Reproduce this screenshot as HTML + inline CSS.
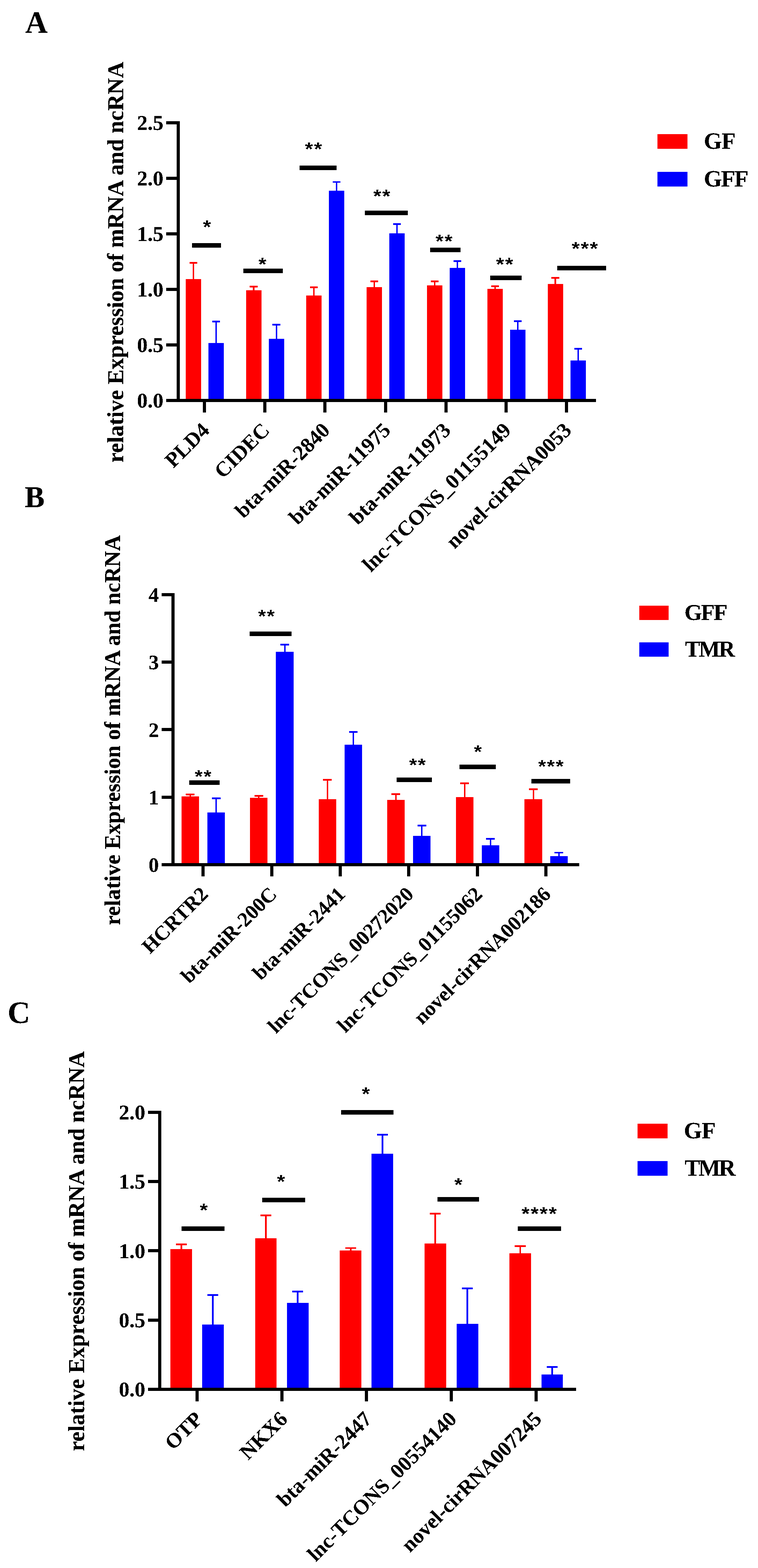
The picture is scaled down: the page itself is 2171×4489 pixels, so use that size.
<!DOCTYPE html>
<html lang="en">
<head>
<meta charset="utf-8">
<title>Relative expression of mRNA and ncRNA</title>
<style>
html,body{margin:0;padding:0;background:#fff;}
body{width:2171px;height:4489px;overflow:hidden;}
svg{display:block;}
text{fill:#000;}
</style>
</head>
<body>
<svg width="2171" height="4489" viewBox="0 0 2171 4489" shape-rendering="crispEdges">
<defs>
<filter id="crisp" x="-2%" y="-2%" width="104%" height="104%" color-interpolation-filters="sRGB">
<feComponentTransfer><feFuncA type="discrete" tableValues="0 0 1 1 1"/></feComponentTransfer>
</filter>
<filter id="crisp2" x="-2%" y="-2%" width="104%" height="104%" color-interpolation-filters="sRGB">
<feComponentTransfer><feFuncA type="discrete" tableValues="0 0 0 1 1"/></feComponentTransfer>
</filter>
</defs>
<rect x="0" y="0" width="2171" height="4489" fill="#ffffff"/>
<g id="chart-A-shapes">
<rect x="552" y="752" width="4" height="48" fill="#ff0000"/>
<rect x="543" y="750" width="22" height="5" fill="#ff0000"/>
<rect x="532" y="799" width="44" height="347" fill="#ff0000"/>
<rect x="617" y="920" width="4" height="63" fill="#0000ff"/>
<rect x="608" y="918" width="22" height="5" fill="#0000ff"/>
<rect x="597" y="982" width="44" height="164" fill="#0000ff"/>
<rect x="724" y="821" width="5" height="11" fill="#ff0000"/>
<rect x="715" y="818" width="23" height="5" fill="#ff0000"/>
<rect x="705" y="831" width="44" height="315" fill="#ff0000"/>
<rect x="790" y="930" width="4" height="41" fill="#0000ff"/>
<rect x="780" y="927" width="23" height="5" fill="#0000ff"/>
<rect x="770" y="970" width="44" height="176" fill="#0000ff"/>
<rect x="897" y="823" width="4" height="24" fill="#ff0000"/>
<rect x="888" y="820" width="22" height="5" fill="#ff0000"/>
<rect x="877" y="846" width="44" height="300" fill="#ff0000"/>
<rect x="962" y="521" width="4" height="26" fill="#0000ff"/>
<rect x="953" y="519" width="22" height="4" fill="#0000ff"/>
<rect x="942" y="546" width="44" height="600" fill="#0000ff"/>
<rect x="1070" y="806" width="4" height="17" fill="#ff0000"/>
<rect x="1061" y="803" width="22" height="5" fill="#ff0000"/>
<rect x="1050" y="822" width="44" height="324" fill="#ff0000"/>
<rect x="1135" y="642" width="4" height="27" fill="#0000ff"/>
<rect x="1126" y="639" width="22" height="5" fill="#0000ff"/>
<rect x="1115" y="668" width="44" height="478" fill="#0000ff"/>
<rect x="1243" y="806" width="4" height="12" fill="#ff0000"/>
<rect x="1234" y="803" width="22" height="5" fill="#ff0000"/>
<rect x="1223" y="817" width="44" height="329" fill="#ff0000"/>
<rect x="1308" y="748" width="4" height="20" fill="#0000ff"/>
<rect x="1299" y="745" width="22" height="5" fill="#0000ff"/>
<rect x="1288" y="767" width="44" height="379" fill="#0000ff"/>
<rect x="1416" y="820" width="4" height="8" fill="#ff0000"/>
<rect x="1407" y="817" width="22" height="5" fill="#ff0000"/>
<rect x="1396" y="827" width="44" height="319" fill="#ff0000"/>
<rect x="1481" y="919" width="4" height="25" fill="#0000ff"/>
<rect x="1472" y="917" width="22" height="5" fill="#0000ff"/>
<rect x="1461" y="944" width="44" height="202" fill="#0000ff"/>
<rect x="1588" y="796" width="5" height="18" fill="#ff0000"/>
<rect x="1579" y="793" width="23" height="5" fill="#ff0000"/>
<rect x="1569" y="813" width="44" height="333" fill="#ff0000"/>
<rect x="1654" y="998" width="4" height="35" fill="#0000ff"/>
<rect x="1645" y="996" width="22" height="5" fill="#0000ff"/>
<rect x="1634" y="1032" width="44" height="114" fill="#0000ff"/>
<rect x="506" y="347" width="9" height="804" fill="#000"/>
<rect x="476" y="1142" width="1231" height="9" fill="#000"/>
<rect x="476" y="347" width="39" height="9" fill="#000"/>
<rect x="476" y="506" width="39" height="9" fill="#000"/>
<rect x="476" y="665" width="39" height="9" fill="#000"/>
<rect x="476" y="824" width="39" height="9" fill="#000"/>
<rect x="476" y="983" width="39" height="9" fill="#000"/>
<rect x="476" y="1142" width="39" height="9" fill="#000"/>
<rect x="581" y="1146" width="9" height="35" fill="#000"/>
<rect x="754" y="1146" width="9" height="35" fill="#000"/>
<rect x="926" y="1146" width="9" height="35" fill="#000"/>
<rect x="1100" y="1146" width="9" height="35" fill="#000"/>
<rect x="1273" y="1146" width="9" height="35" fill="#000"/>
<rect x="1445" y="1146" width="9" height="35" fill="#000"/>
<rect x="1618" y="1146" width="9" height="35" fill="#000"/>
<rect x="550" y="696" width="83" height="13" fill="#000"/>
<rect x="697" y="769" width="113" height="13" fill="#000"/>
<rect x="858" y="474" width="106" height="13" fill="#000"/>
<rect x="1045" y="603" width="123" height="13" fill="#000"/>
<rect x="1232" y="709" width="87" height="13" fill="#000"/>
<rect x="1404" y="789" width="90" height="13" fill="#000"/>
<rect x="1596" y="761" width="140" height="13" fill="#000"/>
<rect x="1883" y="384" width="86" height="42" fill="#ff0000"/>
<rect x="1883" y="492" width="86" height="42" fill="#0000ff"/>
</g>
<g id="chart-B-shapes">
<rect x="543" y="2274" width="4" height="7" fill="#ff0000"/>
<rect x="532" y="2272" width="25" height="5" fill="#ff0000"/>
<rect x="520" y="2280" width="50" height="195" fill="#ff0000"/>
<rect x="617" y="2286" width="4" height="41" fill="#0000ff"/>
<rect x="607" y="2283" width="25" height="5" fill="#0000ff"/>
<rect x="594" y="2326" width="50" height="149" fill="#0000ff"/>
<rect x="739" y="2278" width="4" height="7" fill="#ff0000"/>
<rect x="729" y="2276" width="25" height="5" fill="#ff0000"/>
<rect x="716" y="2284" width="50" height="191" fill="#ff0000"/>
<rect x="814" y="1845" width="4" height="22" fill="#0000ff"/>
<rect x="803" y="1843" width="25" height="5" fill="#0000ff"/>
<rect x="790" y="1866" width="51" height="609" fill="#0000ff"/>
<rect x="936" y="2232" width="4" height="57" fill="#ff0000"/>
<rect x="925" y="2230" width="25" height="5" fill="#ff0000"/>
<rect x="913" y="2288" width="50" height="187" fill="#ff0000"/>
<rect x="1010" y="2096" width="4" height="37" fill="#0000ff"/>
<rect x="1000" y="2093" width="24" height="5" fill="#0000ff"/>
<rect x="987" y="2132" width="50" height="343" fill="#0000ff"/>
<rect x="1132" y="2274" width="4" height="17" fill="#ff0000"/>
<rect x="1121" y="2271" width="25" height="5" fill="#ff0000"/>
<rect x="1109" y="2290" width="50" height="185" fill="#ff0000"/>
<rect x="1206" y="2364" width="4" height="30" fill="#0000ff"/>
<rect x="1196" y="2361" width="25" height="5" fill="#0000ff"/>
<rect x="1183" y="2393" width="50" height="82" fill="#0000ff"/>
<rect x="1329" y="2243" width="4" height="40" fill="#ff0000"/>
<rect x="1318" y="2240" width="25" height="5" fill="#ff0000"/>
<rect x="1306" y="2282" width="50" height="193" fill="#ff0000"/>
<rect x="1403" y="2402" width="4" height="19" fill="#0000ff"/>
<rect x="1392" y="2399" width="25" height="5" fill="#0000ff"/>
<rect x="1380" y="2420" width="50" height="55" fill="#0000ff"/>
<rect x="1526" y="2260" width="4" height="29" fill="#ff0000"/>
<rect x="1515" y="2257" width="25" height="5" fill="#ff0000"/>
<rect x="1502" y="2288" width="51" height="187" fill="#ff0000"/>
<rect x="1599" y="2441" width="4" height="11" fill="#0000ff"/>
<rect x="1588" y="2439" width="25" height="4" fill="#0000ff"/>
<rect x="1576" y="2451" width="50" height="24" fill="#0000ff"/>
<rect x="491" y="1698" width="9" height="782" fill="#000"/>
<rect x="463" y="2471" width="1196" height="9" fill="#000"/>
<rect x="463" y="1698" width="37" height="9" fill="#000"/>
<rect x="463" y="1891" width="37" height="9" fill="#000"/>
<rect x="463" y="2084" width="37" height="9" fill="#000"/>
<rect x="463" y="2278" width="37" height="9" fill="#000"/>
<rect x="463" y="2471" width="37" height="9" fill="#000"/>
<rect x="577" y="2475" width="9" height="34" fill="#000"/>
<rect x="774" y="2475" width="9" height="34" fill="#000"/>
<rect x="970" y="2475" width="9" height="34" fill="#000"/>
<rect x="1166" y="2475" width="9" height="34" fill="#000"/>
<rect x="1363" y="2475" width="9" height="34" fill="#000"/>
<rect x="1559" y="2475" width="9" height="34" fill="#000"/>
<rect x="542" y="2234" width="87" height="13" fill="#000"/>
<rect x="715" y="1808" width="120" height="13" fill="#000"/>
<rect x="1136" y="2226" width="101" height="13" fill="#000"/>
<rect x="1316" y="2189" width="104" height="13" fill="#000"/>
<rect x="1522" y="2230" width="111" height="13" fill="#000"/>
<rect x="1831" y="1734" width="84" height="41" fill="#ff0000"/>
<rect x="1831" y="1839" width="84" height="41" fill="#0000ff"/>
</g>
<g id="chart-C-shapes">
<rect x="517" y="3562" width="5" height="15" fill="#ff0000"/>
<rect x="504" y="3560" width="31" height="5" fill="#ff0000"/>
<rect x="488" y="3576" width="62" height="401" fill="#ff0000"/>
<rect x="607" y="3707" width="5" height="86" fill="#0000ff"/>
<rect x="594" y="3705" width="31" height="5" fill="#0000ff"/>
<rect x="579" y="3792" width="62" height="185" fill="#0000ff"/>
<rect x="759" y="3480" width="5" height="66" fill="#ff0000"/>
<rect x="746" y="3477" width="31" height="5" fill="#ff0000"/>
<rect x="731" y="3545" width="61" height="432" fill="#ff0000"/>
<rect x="850" y="3697" width="5" height="34" fill="#0000ff"/>
<rect x="837" y="3695" width="31" height="5" fill="#0000ff"/>
<rect x="822" y="3730" width="62" height="247" fill="#0000ff"/>
<rect x="1002" y="3573" width="5" height="8" fill="#ff0000"/>
<rect x="989" y="3571" width="31" height="4" fill="#ff0000"/>
<rect x="973" y="3580" width="62" height="397" fill="#ff0000"/>
<rect x="1093" y="3248" width="5" height="56" fill="#0000ff"/>
<rect x="1080" y="3246" width="31" height="5" fill="#0000ff"/>
<rect x="1064" y="3303" width="62" height="674" fill="#0000ff"/>
<rect x="1244" y="3475" width="5" height="86" fill="#ff0000"/>
<rect x="1231" y="3472" width="31" height="5" fill="#ff0000"/>
<rect x="1216" y="3560" width="62" height="417" fill="#ff0000"/>
<rect x="1336" y="3688" width="5" height="103" fill="#0000ff"/>
<rect x="1323" y="3686" width="31" height="5" fill="#0000ff"/>
<rect x="1308" y="3790" width="62" height="187" fill="#0000ff"/>
<rect x="1488" y="3568" width="4" height="21" fill="#ff0000"/>
<rect x="1474" y="3565" width="32" height="5" fill="#ff0000"/>
<rect x="1459" y="3588" width="62" height="389" fill="#ff0000"/>
<rect x="1579" y="3914" width="5" height="22" fill="#0000ff"/>
<rect x="1566" y="3911" width="31" height="5" fill="#0000ff"/>
<rect x="1551" y="3935" width="61" height="42" fill="#0000ff"/>
<rect x="453" y="3180" width="9" height="802" fill="#000"/>
<rect x="424" y="3973" width="1226" height="9" fill="#000"/>
<rect x="424" y="3180" width="38" height="9" fill="#000"/>
<rect x="424" y="3378" width="38" height="9" fill="#000"/>
<rect x="424" y="3576" width="38" height="9" fill="#000"/>
<rect x="424" y="3775" width="38" height="9" fill="#000"/>
<rect x="424" y="3973" width="38" height="9" fill="#000"/>
<rect x="560" y="3977" width="9" height="35" fill="#000"/>
<rect x="803" y="3977" width="9" height="35" fill="#000"/>
<rect x="1045" y="3977" width="9" height="35" fill="#000"/>
<rect x="1288" y="3977" width="9" height="35" fill="#000"/>
<rect x="1531" y="3977" width="9" height="35" fill="#000"/>
<rect x="520" y="3511" width="123" height="13" fill="#000"/>
<rect x="751" y="3429" width="123" height="13" fill="#000"/>
<rect x="977" y="3178" width="150" height="13" fill="#000"/>
<rect x="1253" y="3427" width="119" height="13" fill="#000"/>
<rect x="1483" y="3511" width="124" height="13" fill="#000"/>
<rect x="1826" y="3217" width="86" height="42" fill="#ff0000"/>
<rect x="1826" y="3324" width="86" height="42" fill="#0000ff"/>
</g>
<g id="chart-A-labels" filter="url(#crisp)">
<text x="468.00" y="372.10" font-family="'Liberation Serif','Times New Roman',Times,serif" font-size="60.50" font-weight="bold" text-anchor="end">2.5</text>
<text x="468.00" y="531.10" font-family="'Liberation Serif','Times New Roman',Times,serif" font-size="60.50" font-weight="bold" text-anchor="end">2.0</text>
<text x="468.00" y="690.10" font-family="'Liberation Serif','Times New Roman',Times,serif" font-size="60.50" font-weight="bold" text-anchor="end">1.5</text>
<text x="468.00" y="849.10" font-family="'Liberation Serif','Times New Roman',Times,serif" font-size="60.50" font-weight="bold" text-anchor="end">1.0</text>
<text x="468.00" y="1008.10" font-family="'Liberation Serif','Times New Roman',Times,serif" font-size="60.50" font-weight="bold" text-anchor="end">0.5</text>
<text x="468.00" y="1167.10" font-family="'Liberation Serif','Times New Roman',Times,serif" font-size="60.50" font-weight="bold" text-anchor="end">0.0</text>
<text x="0.00" y="0.00" font-family="'Liberation Serif','Times New Roman',Times,serif" font-size="60.20" font-weight="bold" text-anchor="end" transform="translate(603.00 1235.20) rotate(-45)">PLD4</text>
<text x="0.00" y="0.00" font-family="'Liberation Serif','Times New Roman',Times,serif" font-size="60.20" font-weight="bold" text-anchor="end" transform="translate(775.50 1235.20) rotate(-45)">CIDEC</text>
<text x="0.00" y="0.00" font-family="'Liberation Serif','Times New Roman',Times,serif" font-size="60.20" font-weight="bold" text-anchor="end" transform="translate(948.00 1235.20) rotate(-45)">bta-miR-2840</text>
<text x="0.00" y="0.00" font-family="'Liberation Serif','Times New Roman',Times,serif" font-size="60.20" font-weight="bold" text-anchor="end" transform="translate(1121.70 1235.20) rotate(-45)">bta-miR-11975</text>
<text x="0.00" y="0.00" font-family="'Liberation Serif','Times New Roman',Times,serif" font-size="60.20" font-weight="bold" text-anchor="end" transform="translate(1294.40 1235.20) rotate(-45)">bta-miR-11973</text>
<text x="0.00" y="0.00" font-family="'Liberation Serif','Times New Roman',Times,serif" font-size="60.20" font-weight="bold" text-anchor="end" transform="translate(1466.90 1235.20) rotate(-45)">lnc-TCONS_01155149</text>
<text x="0.00" y="0.00" font-family="'Liberation Serif','Times New Roman',Times,serif" font-size="60.20" font-weight="bold" text-anchor="end" transform="translate(1640.00 1235.20) rotate(-45)">novel-cirRNA0053</text>
<text x="0.00" y="0.00" font-family="'Liberation Serif','Times New Roman',Times,serif" font-size="64.79" font-weight="bold" text-anchor="start" transform="translate(352.80 1324.30) rotate(-90)">relative Expression of mRNA and ncRNA</text>
<text x="2016.00" y="425.80" font-family="'Liberation Serif','Times New Roman',Times,serif" font-size="66.70" font-weight="bold" text-anchor="start" letter-spacing="-1.362">GF</text>
<text x="2016.00" y="533.70" font-family="'Liberation Serif','Times New Roman',Times,serif" font-size="66.70" font-weight="bold" text-anchor="start" letter-spacing="-2.856">GFF</text>
<text x="72.30" y="93.20" font-family="'Liberation Serif','Times New Roman',Times,serif" font-size="88.50" font-weight="bold" text-anchor="start">A</text>
</g>
<g id="chart-A-stars" filter="url(#crisp2)">
<text transform="translate(581.24 667.80) scale(1.1 1)" x="0" y="0" font-family="'Liberation Sans',Arial,Helvetica,sans-serif" font-size="54.00" font-weight="bold" letter-spacing="2.53">*</text>
<text transform="translate(740.04 775.20) scale(1.1 1)" x="0" y="0" font-family="'Liberation Sans',Arial,Helvetica,sans-serif" font-size="54.00" font-weight="bold" letter-spacing="2.53">*</text>
<text transform="translate(873.29 444.50) scale(1.1 1)" x="0" y="0" font-family="'Liberation Sans',Arial,Helvetica,sans-serif" font-size="54.00" font-weight="bold" letter-spacing="2.53">**</text>
<text transform="translate(1068.89 580.00) scale(1.1 1)" x="0" y="0" font-family="'Liberation Sans',Arial,Helvetica,sans-serif" font-size="54.00" font-weight="bold" letter-spacing="2.53">**</text>
<text transform="translate(1247.19 709.20) scale(1.1 1)" x="0" y="0" font-family="'Liberation Sans',Arial,Helvetica,sans-serif" font-size="54.00" font-weight="bold" letter-spacing="2.53">**</text>
<text transform="translate(1420.79 774.90) scale(1.1 1)" x="0" y="0" font-family="'Liberation Sans',Arial,Helvetica,sans-serif" font-size="54.00" font-weight="bold" letter-spacing="2.53">**</text>
<text transform="translate(1637.34 729.70) scale(1.1 1)" x="0" y="0" font-family="'Liberation Sans',Arial,Helvetica,sans-serif" font-size="54.00" font-weight="bold" letter-spacing="2.53">***</text>
</g>
<g id="chart-B-labels" filter="url(#crisp)">
<text x="455.00" y="1723.30" font-family="'Liberation Serif','Times New Roman',Times,serif" font-size="59.00" font-weight="bold" text-anchor="end">4</text>
<text x="455.00" y="1916.45" font-family="'Liberation Serif','Times New Roman',Times,serif" font-size="59.00" font-weight="bold" text-anchor="end">3</text>
<text x="455.00" y="2109.60" font-family="'Liberation Serif','Times New Roman',Times,serif" font-size="59.00" font-weight="bold" text-anchor="end">2</text>
<text x="455.00" y="2302.75" font-family="'Liberation Serif','Times New Roman',Times,serif" font-size="59.00" font-weight="bold" text-anchor="end">1</text>
<text x="455.00" y="2495.90" font-family="'Liberation Serif','Times New Roman',Times,serif" font-size="59.00" font-weight="bold" text-anchor="end">0</text>
<text x="0.00" y="0.00" font-family="'Liberation Serif','Times New Roman',Times,serif" font-size="58.80" font-weight="bold" text-anchor="end" transform="translate(599.30 2563.50) rotate(-45)">HCRTR2</text>
<text x="0.00" y="0.00" font-family="'Liberation Serif','Times New Roman',Times,serif" font-size="58.80" font-weight="bold" text-anchor="end" transform="translate(796.00 2563.50) rotate(-45)">bta-miR-200C</text>
<text x="0.00" y="0.00" font-family="'Liberation Serif','Times New Roman',Times,serif" font-size="58.80" font-weight="bold" text-anchor="end" transform="translate(992.10 2563.50) rotate(-45)">bta-miR-2441</text>
<text x="0.00" y="0.00" font-family="'Liberation Serif','Times New Roman',Times,serif" font-size="58.80" font-weight="bold" text-anchor="end" transform="translate(1187.90 2563.50) rotate(-45)">lnc-TCONS_00272020</text>
<text x="0.00" y="0.00" font-family="'Liberation Serif','Times New Roman',Times,serif" font-size="58.80" font-weight="bold" text-anchor="end" transform="translate(1384.60 2563.50) rotate(-45)">lnc-TCONS_01155062</text>
<text x="0.00" y="0.00" font-family="'Liberation Serif','Times New Roman',Times,serif" font-size="58.80" font-weight="bold" text-anchor="end" transform="translate(1580.80 2563.50) rotate(-45)">novel-cirRNA002186</text>
<text x="0.00" y="0.00" font-family="'Liberation Serif','Times New Roman',Times,serif" font-size="63.05" font-weight="bold" text-anchor="start" transform="translate(343.40 2648.70) rotate(-90)">relative Expression of mRNA and ncRNA</text>
<text x="1960.20" y="1774.80" font-family="'Liberation Serif','Times New Roman',Times,serif" font-size="65.00" font-weight="bold" text-anchor="start" letter-spacing="-3.256">GFF</text>
<text x="1962.00" y="1879.90" font-family="'Liberation Serif','Times New Roman',Times,serif" font-size="65.00" font-weight="bold" text-anchor="start" letter-spacing="-4.215">TMR</text>
<text x="70.60" y="1451.70" font-family="'Liberation Serif','Times New Roman',Times,serif" font-size="86.00" font-weight="bold" text-anchor="start">B</text>
</g>
<g id="chart-B-stars" filter="url(#crisp2)">
<text transform="translate(557.74 2240.80) scale(1.1 1)" x="0" y="0" font-family="'Liberation Sans',Arial,Helvetica,sans-serif" font-size="52.60" font-weight="bold" letter-spacing="2.44">**</text>
<text transform="translate(739.04 1782.20) scale(1.1 1)" x="0" y="0" font-family="'Liberation Sans',Arial,Helvetica,sans-serif" font-size="52.60" font-weight="bold" letter-spacing="2.44">**</text>
<text transform="translate(1171.64 2207.70) scale(1.1 1)" x="0" y="0" font-family="'Liberation Sans',Arial,Helvetica,sans-serif" font-size="52.60" font-weight="bold" letter-spacing="2.44">**</text>
<text transform="translate(1357.54 2169.60) scale(1.1 1)" x="0" y="0" font-family="'Liberation Sans',Arial,Helvetica,sans-serif" font-size="52.60" font-weight="bold" letter-spacing="2.44">*</text>
<text transform="translate(1541.34 2211.70) scale(1.1 1)" x="0" y="0" font-family="'Liberation Sans',Arial,Helvetica,sans-serif" font-size="52.60" font-weight="bold" letter-spacing="2.44">***</text>
</g>
<g id="chart-C-labels" filter="url(#crisp)">
<text x="416.00" y="3205.00" font-family="'Liberation Serif','Times New Roman',Times,serif" font-size="60.50" font-weight="bold" text-anchor="end">2.0</text>
<text x="416.00" y="3403.25" font-family="'Liberation Serif','Times New Roman',Times,serif" font-size="60.50" font-weight="bold" text-anchor="end">1.5</text>
<text x="416.00" y="3601.50" font-family="'Liberation Serif','Times New Roman',Times,serif" font-size="60.50" font-weight="bold" text-anchor="end">1.0</text>
<text x="416.00" y="3799.75" font-family="'Liberation Serif','Times New Roman',Times,serif" font-size="60.50" font-weight="bold" text-anchor="end">0.5</text>
<text x="416.00" y="3998.00" font-family="'Liberation Serif','Times New Roman',Times,serif" font-size="60.50" font-weight="bold" text-anchor="end">0.0</text>
<text x="0.00" y="0.00" font-family="'Liberation Serif','Times New Roman',Times,serif" font-size="60.20" font-weight="bold" text-anchor="end" transform="translate(583.50 4066.00) rotate(-45)">OTP</text>
<text x="0.00" y="0.00" font-family="'Liberation Serif','Times New Roman',Times,serif" font-size="60.20" font-weight="bold" text-anchor="end" transform="translate(826.80 4066.00) rotate(-45)">NKX6</text>
<text x="0.00" y="0.00" font-family="'Liberation Serif','Times New Roman',Times,serif" font-size="60.20" font-weight="bold" text-anchor="end" transform="translate(1068.10 4066.00) rotate(-45)">bta-miR-2447</text>
<text x="0.00" y="0.00" font-family="'Liberation Serif','Times New Roman',Times,serif" font-size="60.20" font-weight="bold" text-anchor="end" transform="translate(1311.40 4066.00) rotate(-45)">lnc-TCONS_00554140</text>
<text x="0.00" y="0.00" font-family="'Liberation Serif','Times New Roman',Times,serif" font-size="60.20" font-weight="bold" text-anchor="end" transform="translate(1554.60 4066.00) rotate(-45)">novel-cirRNA007245</text>
<text x="0.00" y="0.00" font-family="'Liberation Serif','Times New Roman',Times,serif" font-size="64.66" font-weight="bold" text-anchor="start" transform="translate(241.00 4154.60) rotate(-90)">relative Expression of mRNA and ncRNA</text>
<text x="1958.70" y="3259.00" font-family="'Liberation Serif','Times New Roman',Times,serif" font-size="66.70" font-weight="bold" text-anchor="start" letter-spacing="-1.112">GF</text>
<text x="1960.80" y="3365.90" font-family="'Liberation Serif','Times New Roman',Times,serif" font-size="66.70" font-weight="bold" text-anchor="start" letter-spacing="-4.704">TMR</text>
<text x="21.80" y="2927.60" font-family="'Liberation Serif','Times New Roman',Times,serif" font-size="89.50" font-weight="bold" text-anchor="start">C</text>
</g>
<g id="chart-C-stars" filter="url(#crisp2)">
<text transform="translate(572.04 3482.80) scale(1.1 1)" x="0" y="0" font-family="'Liberation Sans',Arial,Helvetica,sans-serif" font-size="54.00" font-weight="bold" letter-spacing="2.53">*</text>
<text transform="translate(793.24 3400.50) scale(1.1 1)" x="0" y="0" font-family="'Liberation Sans',Arial,Helvetica,sans-serif" font-size="54.00" font-weight="bold" letter-spacing="2.53">*</text>
<text transform="translate(1036.24 3150.00) scale(1.1 1)" x="0" y="0" font-family="'Liberation Sans',Arial,Helvetica,sans-serif" font-size="54.00" font-weight="bold" letter-spacing="2.53">*</text>
<text transform="translate(1301.34 3409.50) scale(1.1 1)" x="0" y="0" font-family="'Liberation Sans',Arial,Helvetica,sans-serif" font-size="54.00" font-weight="bold" letter-spacing="2.53">*</text>
<text transform="translate(1493.79 3493.30) scale(1.1 1)" x="0" y="0" font-family="'Liberation Sans',Arial,Helvetica,sans-serif" font-size="54.00" font-weight="bold" letter-spacing="2.53">****</text>
</g>
</svg>
</body>
</html>
